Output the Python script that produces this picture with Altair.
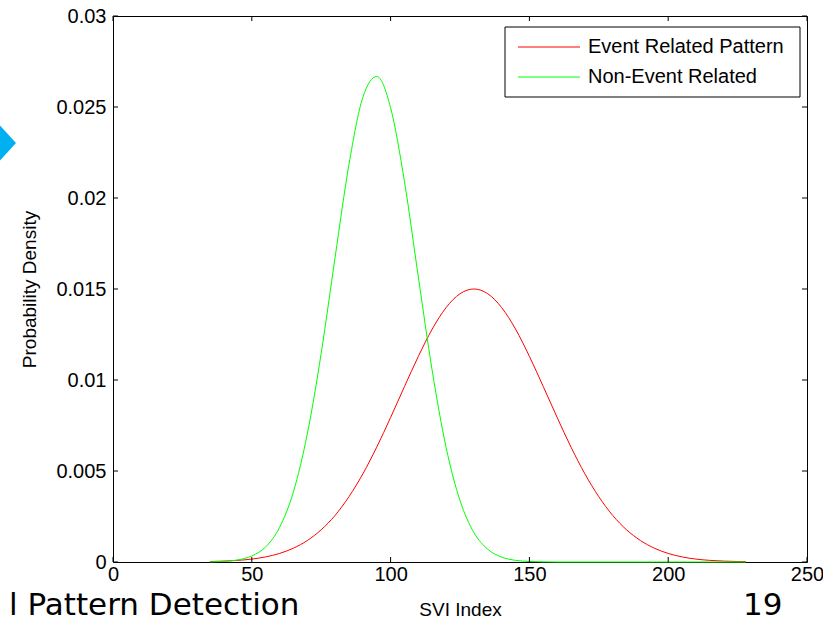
import altair as alt
import pandas as pd

# ---- data ----
svi = [35, 40, 45, 50, 55, 60, 65, 70, 75, 80, 85, 90, 95, 100, 105, 110, 115, 120,
       125, 130, 135, 140, 145, 150, 155, 160, 165, 170, 175, 180, 185, 190, 195,
       200, 205, 210, 215, 220, 225, 228]
event_related = [0.000026, 0.00005, 0.00009, 0.00016, 0.00028, 0.00047, 0.00076, 0.00118,
                 0.00177, 0.00256, 0.00359, 0.00484, 0.00631, 0.00794, 0.00964, 0.0113,
                 0.0128, 0.01398, 0.01474, 0.0150, 0.01474, 0.01398, 0.0128, 0.0113,
                 0.00964, 0.00794, 0.00631, 0.00484, 0.00359, 0.00256, 0.00177, 0.00118,
                 0.00076, 0.00047, 0.00028, 0.00016, 0.00009, 0.00005, 0.000026, 0.00002]
non_event = [0.00001, 0.000036, 0.000115, 0.00033, 0.00083, 0.0019, 0.00386, 0.00704,
             0.01147, 0.01674, 0.02184, 0.02553, 0.02668, 0.02496, 0.0209, 0.01565,
             0.0105, 0.00629, 0.00338, 0.00162, 0.0007, 0.00027, 0.00009, 0.00003,
             0.00001, 0, 0, 0, 0, 0, 0, 0, 0, 0, 0, 0, 0, 0, 0, 0]
series_names = ["Event Related Pattern", "Non-Event Related"]
series_colors = ["#FF0000", "#00FF00"]
x_ticks = [0, 50, 100, 150, 200, 250]
y_ticks = [0, 0.005, 0.01, 0.015, 0.02, 0.025, 0.03]
slide_title = "l Pattern Detection"
slide_number = "19"

W, H = 694, 546
FONT = "Liberation Sans"

n = len(svi)
df = pd.DataFrame({
    "svi": svi * 2,
    "density": event_related + non_event,
    "series": [series_names[0]] * n + [series_names[1]] * n,
})

xs = alt.Scale(domain=[0, 250], nice=False, zero=False)
ys = alt.Scale(domain=[0, 0.03], nice=False)
cs = alt.Scale(domain=series_names, range=series_colors)

x_axis = alt.Axis(
    values=x_ticks, format="~r", title="SVI Index", ticks=False, domain=False,
    grid=False, labelPadding=2, labelFontSize=20, labelFont=FONT,
    labelColor="black", titleFont=FONT, titleFontSize=19, titleFontWeight="normal",
    titleColor="black", titleX=W / 2, titleY=53, titleBaseline="alphabetic",
    titleAlign="center", labelFlush=False)
y_axis = alt.Axis(
    values=y_ticks, format="~r", title="Probability Density", ticks=False,
    domain=False, grid=False, labelPadding=7, labelFontSize=20, labelFont=FONT,
    labelColor="black", titleFont=FONT, titleFontSize=19, titleFontWeight="normal",
    titleColor="black", titleAngle=270, titleX=-78, titleY=H / 2,
    titleBaseline="alphabetic", titleAlign="center", labelFlush=False)

lines = alt.Chart(df).mark_line(strokeWidth=1, interpolate="monotone").encode(
    x=alt.X("svi:Q", scale=xs, axis=x_axis),
    y=alt.Y("density:Q", scale=ys, axis=y_axis),
    color=alt.Color("series:N", scale=cs, legend=None),
)

xt = pd.DataFrame({"t": x_ticks})
yt = pd.DataFrame({"t": y_ticks})
TL = 5
bottom_ticks = alt.Chart(xt).mark_rule(color="black", strokeWidth=1).encode(
    x=alt.X("t:Q", scale=xs, axis=x_axis), y=alt.value(H), y2=alt.value(H - TL))
top_ticks = alt.Chart(xt).mark_rule(color="black", strokeWidth=1).encode(
    x=alt.X("t:Q", scale=xs, axis=x_axis), y=alt.value(0), y2=alt.value(TL))
left_ticks = alt.Chart(yt).mark_rule(color="black", strokeWidth=1).encode(
    y=alt.Y("t:Q", scale=ys, axis=y_axis), x=alt.value(0), x2=alt.value(TL))
right_ticks = alt.Chart(yt).mark_rule(color="black", strokeWidth=1).encode(
    y=alt.Y("t:Q", scale=ys, axis=y_axis), x=alt.value(W), x2=alt.value(W - TL))

one = pd.DataFrame({"a": [0]})
legend_box = alt.Chart(one).mark_rect(fill="white", stroke="black", strokeWidth=1).encode(
    x=alt.value(392), x2=alt.value(687), y=alt.value(11), y2=alt.value(81))

legend_layers = []
for i, name in enumerate(series_names):
    ld = pd.DataFrame({"series": [name]})
    yrow = 31 + 30 * i
    legend_layers.append(alt.Chart(ld).mark_rule(strokeWidth=1).encode(
        x=alt.value(405), x2=alt.value(467), y=alt.value(yrow),
        color=alt.Color("series:N", scale=cs, legend=None)))
    legend_layers.append(alt.Chart(ld).mark_text(
        align="left", baseline="middle", font=FONT, fontSize=20, color="black").encode(
        x=alt.value(475), y=alt.value(yrow), text="series:N"))

slide_text = alt.Chart(pd.DataFrame({"s": [slide_title]})).mark_text(
    align="left", baseline="alphabetic", font="DejaVu Sans", fontSize=31, color="black"
).encode(x=alt.value(-104), y=alt.value(599), text="s:N")
page_num = alt.Chart(pd.DataFrame({"s": [slide_number]})).mark_text(
    align="left", baseline="alphabetic", font="DejaVu Sans", fontSize=31, color="black"
).encode(x=alt.value(630), y=alt.value(599), text="s:N")
arrow = alt.Chart(one).mark_point(
    shape="M0,-1.1L1,0L0,1.1L-1,0Z", filled=True, fill="#00B0F0", strokeWidth=0,
    opacity=1, size=1024).encode(x=alt.value(-113), y=alt.value(127))

chart = alt.layer(
    lines, bottom_ticks, top_ticks, left_ticks, right_ticks,
    legend_box, *legend_layers, slide_text, page_num, arrow
).properties(
    width=W, height=H,
    autosize=alt.AutoSizeParams(type="none"),
    padding={"left": 113, "top": 16, "right": 16, "bottom": 57},
    background="white",
).configure_view(stroke="black", strokeWidth=1)

chart.save("out.html", embed_options={"renderer": "svg", "actions": False})
